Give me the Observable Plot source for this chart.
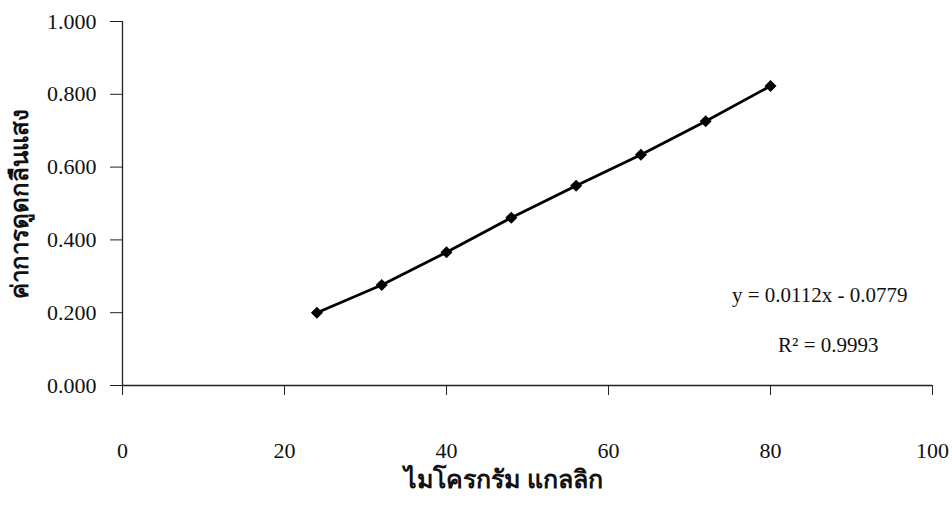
<!DOCTYPE html>
<html>
<head>
<meta charset="utf-8">
<script src="https://cdn.jsdelivr.net/npm/d3@7"></script>
<script src="https://cdn.jsdelivr.net/npm/@observablehq/plot@0.6"></script>
<style>
  html, body { margin: 0; padding: 0; background: #fff; }
  #chart svg { display: block; }
  #chart svg text { font-family: 'Liberation Serif', 'DejaVu Serif', serif; }
  #chart svg text.thai { font-family: 'Noto Sans Thai', 'Tahoma', 'DejaVu Sans', sans-serif; }
</style>
</head>
<body>
<div id="chart"></div>
<script>
// Data
const micrograms = [24, 32, 40, 48, 56, 64, 72, 80];
const absorbance = [0.200, 0.276, 0.366, 0.461, 0.549, 0.634, 0.726, 0.823];
const xTicks = [0, 20, 40, 60, 80, 100];
const yTicks = [0, 0.2, 0.4, 0.6, 0.8, 1.0];
const xLabel = "ไมโครกรัม แกลลิก";
const yLabel = "ค่าการดูดกลืนแสง";
const equationText = "y = 0.0112x - 0.0779";
const r2Text = "R² = 0.9993";

const data = micrograms.map((x, i) => ({x, y: absorbance[i]}));

const serif = "'Liberation Serif', 'DejaVu Serif', serif";
const thai = "'Noto Sans Thai', 'Tahoma', 'DejaVu Sans', sans-serif";

const chart = Plot.plot({
  width: 952,
  height: 512,
  marginLeft: 122,
  marginRight: 20,
  marginTop: 21,
  marginBottom: 127,
  style: {fontFamily: serif, fontSize: "22px", color: "#111", background: "#fff"},
  x: {domain: [0, 100]},
  y: {domain: [0, 1]},
  marks: [
    Plot.axisY(yTicks, {
      tickSize: 12, tickPadding: 14, tickFormat: d3.format(".3f"),
      fontSize: 22, fontFamily: serif, stroke: "#222", label: null
    }),
    Plot.axisX(xTicks, {
      tickSize: 10, tickPadding: 47, tickFormat: d3.format("d"),
      fontSize: 22, fontFamily: serif, stroke: "#222", label: null
    }),
    Plot.ruleX([0], {stroke: "#222", strokeWidth: 1.3}),
    Plot.ruleY([0], {stroke: "#222", strokeWidth: 1.3}),
    Plot.line(data, {x: "x", y: "y", stroke: "#000", strokeWidth: 2.8}),
    Plot.dot(data, {x: "x", y: "y", symbol: "square", rotate: 45, r: 4.8, fill: "#000", stroke: "none"}),
    Plot.text([equationText], {
      frameAnchor: "top-right", dx: -25, dy: 266, textAnchor: "end",
      fontSize: 21, fill: "#111", fontFamily: serif
    }),
    Plot.text([r2Text], {
      frameAnchor: "top-right", dx: -54, dy: 316, textAnchor: "end",
      fontSize: 21, fill: "#111", fontFamily: serif
    }),
    Plot.text([yLabel], {
      frameAnchor: "left", dx: -102, rotate: -90, textAnchor: "middle",
      fontSize: 24, fontWeight: "bold", fill: "#111", fontFamily: thai,
      className: "thai"
    }),
    Plot.text([xLabel], {
      frameAnchor: "bottom", dx: -24, dy: 102, textAnchor: "middle",
      fontSize: 25, fontWeight: 600, fill: "#111", fontFamily: thai, className: "thai"
    })
  ]
});
document.getElementById("chart").appendChild(chart);
</script>
</body>
</html>
